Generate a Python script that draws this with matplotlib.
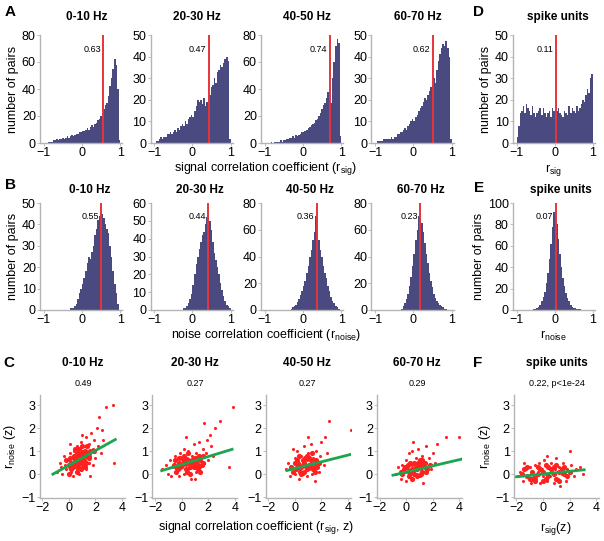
import numpy as np
import matplotlib
matplotlib.use("Agg")
import matplotlib.pyplot as plt

plt.rcParams['font.family'] = ['Liberation Sans', 'DejaVu Sans']
plt.rcParams['mathtext.default'] = 'regular'

# histogram bins: 50 bins of width 0.04 from -1 to 1
bin_centers = np.arange(-0.98, 1.0, 0.04)

sig_0_10 = [0, 0, 0, 1, 1, 1, 2, 2, 3, 2,
            3, 3, 4, 3, 4, 5, 4, 5, 6, 5,
            6, 7, 7, 8, 8, 9, 9, 10, 11, 10,
            12, 13, 12, 14, 15, 17, 18, 20, 22, 25,
            28, 30, 35, 42, 48, 55, 62, 58, 40, 2]
sig_20_30 = [0, 1, 1, 2, 3, 2, 3, 3, 4, 4,
             5, 4, 5, 6, 5, 7, 6, 8, 9, 8,
             10, 9, 11, 12, 13, 12, 15, 17, 20, 19,
             20, 18, 21, 17, 19, 18, 22, 26, 27, 30,
             28, 33, 34, 36, 35, 37, 39, 40, 38, 2]
sig_40_50 = [0, 0, 0, 0, 1, 0, 1, 1, 1, 1,
             2, 1, 2, 2, 3, 3, 4, 4, 5, 4,
             6, 5, 6, 7, 8, 8, 9, 10, 11, 12,
             13, 14, 15, 17, 18, 20, 22, 25, 28, 30,
             33, 38, 40, 30, 48, 60, 72, 77, 74, 5]
sig_60_70 = [0, 1, 1, 1, 1, 2, 2, 2, 2, 2,
             3, 2, 3, 3, 4, 4, 5, 5, 6, 7,
             6, 8, 9, 10, 11, 10, 12, 13, 15, 16,
             17, 19, 21, 20, 22, 24, 26, 27, 30, 28,
             34, 38, 41, 44, 46, 45, 47, 44, 40, 2]
sig_spike = [3, 8, 14, 15, 17, 14, 18, 16, 15, 13,
             17, 14, 12, 14, 15, 16, 13, 16, 14, 12,
             14, 15, 12, 16, 15, 11, 15, 16, 14, 13,
             12, 15, 14, 13, 17, 14, 16, 15, 14, 17,
             15, 16, 18, 20, 19, 22, 25, 23, 30, 32]

noise_0_10 = [0, 0, 0, 0, 0, 0, 0, 0, 0, 0,
              0, 0, 0, 0, 0, 0, 0, 1, 1, 1,
              2, 3, 5, 8, 10, 12, 15, 18, 22, 25,
              24, 27, 30, 35, 38, 42, 44, 46, 45, 43,
              40, 38, 36, 30, 25, 18, 12, 8, 3, 0]
noise_20_30 = [0, 0, 0, 0, 0, 0, 0, 0, 0, 0,
               0, 0, 0, 0, 0, 0, 0, 0, 0, 1,
               1, 2, 4, 6, 9, 14, 20, 26, 30, 34,
               38, 42, 44, 48, 52, 55, 50, 45, 38, 32,
               28, 24, 20, 15, 11, 8, 5, 3, 2, 1]
noise_40_50 = [0, 0, 0, 0, 0, 0, 0, 0, 0, 0,
               0, 0, 0, 0, 0, 0, 0, 1, 2, 3,
               4, 6, 8, 11, 14, 18, 22, 28, 33, 40,
               45, 52, 58, 70, 60, 52, 45, 40, 33, 28,
               24, 18, 14, 10, 7, 5, 3, 2, 1, 0]
noise_60_70 = [0, 0, 0, 0, 0, 0, 0, 0, 0, 0,
               0, 0, 0, 0, 0, 0, 0, 1, 3, 5,
               8, 12, 18, 25, 33, 42, 52, 60, 70, 72,
               65, 58, 50, 42, 35, 28, 22, 17, 12, 9,
               7, 5, 4, 3, 2, 1, 1, 0, 0, 0]
noise_spike = [0, 0, 0, 0, 0, 0, 0, 0, 0, 0,
               0, 1, 1, 2, 3, 5, 8, 12, 17, 25,
               35, 48, 62, 78, 92, 88, 80, 66, 52, 40,
               30, 22, 16, 11, 8, 5, 3, 2, 2, 1,
               1, 1, 0, 0, 0, 0, 0, 0, 0, 0]

band_titles = ['0-10 Hz', '20-30 Hz', '40-50 Hz', '60-70 Hz', 'spike units']
sig_hists = [sig_0_10, sig_20_30, sig_40_50, sig_60_70, sig_spike]
noise_hists = [noise_0_10, noise_20_30, noise_40_50, noise_60_70, noise_spike]
sig_ymax = [80, 50, 80, 50, 50]
noise_ymax = [50, 60, 80, 80, 100]
sig_line = [0.56, 0.43, 0.70, 0.51, 0.02]
sig_label = ['0.63', '0.47', '0.74', '0.62', '0.11']
noise_line = [0.50, 0.42, 0.36, 0.18, 0.02]
noise_label = ['0.55', '0.44', '0.36', '0.23', '0.07']

# z-scored scatter (r_sig, r_noise): sparse outer points
c1_x = [-0.9, -0.6, -0.5, -0.3, -0.2, 0.0, 0.0, 0.1, 0.2, 0.2, 0.3, 0.4, 0.4, 0.5, 0.5,
        0.6, 0.6, 0.7, 0.7, 0.8, 0.8, 0.9, 0.9, 1.0, 1.0, 1.1, 1.1, 1.2, 1.2, 1.3, 1.3,
        1.4, 1.5, 1.5, 1.6, 1.7, 1.8, 1.8, 1.9, 2.0, 2.1, 2.2, 2.3, 2.4, 2.5, 2.8, 3.3,
        3.4, -0.4, 0.3, 1.6, 2.6, 0.1, -0.7, 1.0]
c1_y = [0.1, 0.3, 0.0, 0.4, 0.2, 0.6, 0.3, 0.9, 0.1, 0.5, 0.7, 0.3, 1.0, 0.5, 0.8,
        0.2, 1.2, 0.6, 0.4, 0.9, 0.0, 0.7, 1.4, 0.5, 1.0, 0.3, 0.8, 1.2, 0.6, 0.2, 1.6,
        0.9, 0.5, 1.3, 0.8, 1.8, 0.4, 1.1, 1.5, 0.7, 2.0, 1.2, 2.5, 0.9, 1.9, 2.9, 3.0,
        0.5, 0.8, -0.1, -0.1, 1.5, 1.3, 0.5, 1.7]
c2_x = [-1.5, -1.2, -1.0, -0.9, -0.7, -0.5, -0.5, -0.3, -0.2, -0.1, 0.0, 0.1, 0.2, 0.2,
        0.3, 0.4, 0.5, 0.5, 0.6, 0.7, 0.8, 0.8, 0.9, 1.0, 1.1, 1.1, 1.2, 1.3, 1.4, 1.5,
        1.6, 1.7, 1.8, 1.9, 2.0, 2.2, 2.4, 2.5, 2.9, 1.7, 3.9, 3.6, -0.8, 0.3, 1.0, 2.1]
c2_y = [0.2, 0.4, 0.0, 0.6, 0.3, 0.8, 0.1, 0.5, -0.1, 0.9, 0.3, 0.6, 0.0, 1.1,
        0.4, 0.7, 0.2, 1.0, 0.5, -0.2, 0.8, 0.3, 1.3, 0.5, 0.1, 0.9, 0.6, 1.4, 0.3, 0.8,
        1.1, 0.5, 0.9, 1.5, 0.6, 1.2, 0.8, 2.0, 2.3, 2.2, 2.9, 0.3, -0.1, 1.6, -0.2, 1.7]
c3_x = [-0.7, -0.5, -0.4, -0.2, 0.0, 0.0, 0.1, 0.2, 0.3, 0.3, 0.4, 0.5, 0.6, 0.6, 0.7,
        0.8, 0.9, 0.9, 1.0, 1.1, 1.2, 1.2, 1.3, 1.4, 1.5, 1.6, 1.7, 1.8, 1.9, 2.0, 2.2,
        2.4, 2.6, 4.2, 2.3, 1.0, -0.1, 1.5]
c3_y = [0.2, 0.5, -0.1, 0.3, 0.7, 0.0, 0.4, 1.0, -0.2, 0.5, 0.2, 0.8, 0.0, 0.4, 1.2,
        0.3, 0.6, -0.1, 0.9, 0.2, 0.5, 1.3, 0.0, 0.7, 0.3, 1.0, 0.5, 0.1, 0.8, 1.4, 0.4,
        0.9, 2.3, 1.9, 1.6, 1.6, 1.1, -0.3]
c4_x = [-0.8, -0.6, -0.4, -0.3, -0.1, 0.0, 0.0, 0.1, 0.2, 0.3, 0.4, 0.5, 0.5, 0.6, 0.7,
        0.8, 0.8, 0.9, 1.0, 1.0, 1.1, 1.2, 1.3, 1.4, 1.5, 1.6, 1.7, 1.9, 2.0, 2.2, 2.3,
        3.0, 4.0, 1.3, 0.4]
c4_y = [0.0, 0.3, -0.2, 0.4, 0.1, 0.6, -0.3, 0.2, 0.9, 0.0, 0.4, -0.2, 1.4, 0.2, 0.7,
        0.0, 0.4, 1.1, -0.1, 0.5, 0.2, 0.8, 0.1, 0.5, 1.2, 0.3, 0.7, 0.2, 0.9, 0.5, 1.3,
        1.6, 1.6, -0.4, 1.0]
f_x = [-1.9, -1.7, -1.5, -1.3, -1.2, -1.0, -0.9, -0.8, -0.6, -0.5, -0.4, -0.3, -0.2,
       -0.1, 0.0, 0.1, 0.2, 0.3, 0.4, 0.5, 0.6, 0.7, 0.8, 0.9, 1.0, 1.1, 1.2, 1.4, 1.5,
       1.7, 1.8, 2.0, 2.1, 2.3, 2.5, 2.8, 3.0, -1.4, 0.3, 1.3]
f_y = [-0.1, 0.1, -0.3, 0.2, -0.1, 0.3, -0.4, 0.0, 0.4, -0.2, 0.1, 0.5, -0.4,
       0.2, -0.1, 0.6, 0.0, -0.3, 0.3, -0.1, 0.5, 0.1, -0.4, 0.2, 0.7, -0.2, 0.3, 0.0, 0.5,
       -0.3, 0.2, 1.0, 0.4, -0.1, 0.2, 0.3, 0.0, 0.5, 0.8, -0.5]

# dense cores of the clouds
c1_core_x = [0.0, 0.2, 0.4, 0.5, 0.6, 0.7, 0.8, 0.9, 1.0, 1.1, 1.2, 1.3, 0.3, 0.5, 0.7,
             0.9, 1.1, 1.3, 1.5, 0.1, 0.4, 0.6, 0.8, 1.0, 1.2, 1.4, 0.6, 0.9, 1.2, -0.2,
             0.2, 0.7, 1.6, 1.9, 0.0, 0.5, 1.0, 1.5]
c1_core_y = [0.4, 0.5, 0.5, 0.6, 0.7, 0.5, 0.6, 0.8, 0.7, 0.6, 0.9, 0.8, 0.3, 0.4, 0.3,
             0.5, 0.4, 0.5, 0.7, 0.7, 0.8, 0.9, 1.1, 1.2, 1.0, 1.2, 0.1, 0.2, 0.3, 0.6,
             0.2, 0.8, 1.0, 1.0, 0.0, 1.1, 0.9, 0.9]
c2_core_x = [-0.6, -0.4, -0.2, 0.0, 0.2, 0.4, 0.6, 0.8, 1.0, 1.2, 1.4, 1.6, -0.5, -0.3,
             -0.1, 0.1, 0.3, 0.5, 0.7, 0.9, 1.1, 1.3, 1.5, -0.4, 0.0, 0.4, 0.8, 1.2, 1.6,
             0.2, 0.6, 1.0, 1.4, -0.2, 0.5, 1.1]
c2_core_y = [0.4, 0.3, 0.5, 0.4, 0.6, 0.5, 0.3, 0.5, 0.7, 0.4, 0.6, 0.5, 0.6, 0.2,
             0.3, 0.5, 0.2, 0.6, 0.4, 0.3, 0.5, 0.8, 0.4, 0.1, 0.7, 0.1, 0.6, 0.2, 0.8,
             0.8, 0.0, 0.3, 0.1, 0.7, 0.9, 0.6]
c3_core_x = [-0.3, -0.1, 0.1, 0.3, 0.5, 0.7, 0.9, 1.1, 1.3, 1.5, 1.7, 0.0, 0.2, 0.4,
             0.6, 0.8, 1.0, 1.2, 1.4, 1.6, 1.8, 0.3, 0.7, 1.1, 1.5, 0.5, 0.9, 1.3]
c3_core_y = [0.3, 0.1, 0.2, 0.4, 0.3, 0.5, 0.2, 0.4, 0.3, 0.5, 0.3, 0.5, 0.6, 0.1,
             0.6, 0.7, 0.3, 0.6, 0.2, 0.6, 0.5, 0.8, 0.1, 0.7, 0.1, 0.0, 0.8, 0.9]
c4_core_x = [-0.4, -0.2, 0.0, 0.2, 0.4, 0.6, 0.8, 1.0, 1.2, 1.4, 1.6, 1.8, -0.3, -0.1,
             0.1, 0.3, 0.5, 0.7, 0.9, 1.1, 1.3, 1.5, 0.2, 0.6, 1.0, 1.4, 0.4, 0.8, 1.2]
c4_core_y = [0.1, 0.2, 0.3, 0.1, 0.2, 0.0, 0.2, 0.3, 0.1, 0.3, 0.2, 0.4, 0.0, 0.3,
             0.4, 0.5, 0.1, 0.3, 0.5, 0.0, 0.4, 0.1, -0.1, 0.5, 0.6, 0.5, -0.2, -0.1, 0.6]
f_core_x = [-1.6, -1.2, -0.8, -0.4, 0.0, 0.4, 0.8, 1.2, 1.6, 2.0, -1.4, -1.0, -0.6, -0.2,
            0.2, 0.6, 1.0, 1.4, 1.8, -1.2, -0.8, -0.4, 0.0, 0.4, 0.8, 1.2, 1.6, -0.6, 0.2,
            1.0]
f_core_y = [0.0, -0.1, 0.1, 0.0, 0.1, -0.1, 0.0, 0.1, 0.0, 0.1, 0.2, -0.2, -0.1, 0.2,
            -0.2, 0.2, -0.2, 0.2, -0.1, 0.3, -0.2, 0.3, -0.3, 0.3, 0.3, -0.3, 0.3, -0.3, 0.4,
            0.4]

scatter_x = [c1_x, c2_x, c3_x, c4_x, f_x]
scatter_y = [c1_y, c2_y, c3_y, c4_y, f_y]
core_x = [c1_core_x, c2_core_x, c3_core_x, c4_core_x, f_core_x]
core_y = [c1_core_y, c2_core_y, c3_core_y, c4_core_y, f_core_y]
corr_label = ['0.49', '0.27', '0.27', '0.29', '0.22, p<1e-24']
# regression lines: (x start, x end, slope, intercept)
fit_x0 = [-1.2, -1.5, -0.6, -1.0, -2.0]
fit_x1 = [3.5, 3.8, 4.2, 4.2, 3.1]
fit_slope = [0.32, 0.175, 0.146, 0.135, 0.06]
fit_icpt = [0.38, 0.41, 0.24, 0.085, 0.0]

W, H = 604, 541
fig = plt.figure(figsize=(W / 100, H / 100), dpi=100)

BAR = '#4a4a80'
RED = '#e8343a'
GRAY = '#b4b4b4'
FS = 9


def px_axes(left, top, width, height):
    return fig.add_axes([left / W, 1 - (top + height) / H, width / W, height / H])


def style(ax):
    for s in ['top', 'right']:
        ax.spines[s].set_visible(False)
    for s in ['left', 'bottom']:
        ax.spines[s].set_color(GRAY)
        ax.spines[s].set_linewidth(1.0)
    ax.tick_params(length=2, width=0.6, color=GRAY, labelsize=FS, pad=1)


def hist_panel(ax, heights, ymax, line_x, label):
    ax.bar(bin_centers, heights, width=0.04, color=BAR, edgecolor='none')
    ax.plot([line_x, line_x], [0, ymax], color=RED, lw=1.4)
    ax.text(line_x - 0.06, ymax * 0.87, label, ha='right', va='center', fontsize=6.5)
    ax.set_xlim(-1.1, 1.05)
    ax.set_ylim(0, ymax)
    ax.set_xticks([-1, 0, 1])
    ax.set_yticks(np.arange(0, ymax + 1, 20 if ymax in (80, 100) else 10))
    style(ax)


hist_lefts = [40, 150.5, 261, 371.5, 512.8]
title_x = [87, 197, 307, 418, 558]
for i in range(5):
    ax = px_axes(hist_lefts[i], 35, 82, 108)
    hist_panel(ax, sig_hists[i], sig_ymax[i], sig_line[i], sig_label[i])
    fig.text(title_x[i] / W, 1 - 17 / H, band_titles[i], ha='center', va='center',
             fontsize=8.5, fontweight='bold')
    if i in (0, 4):
        ax.set_ylabel('number of pairs', fontsize=FS, labelpad=2)
    if i == 4:
        ax.set_xlabel(r'r$_{sig}$', fontsize=FS, labelpad=2)

    ax = px_axes(hist_lefts[i], 203, 82, 107)
    hist_panel(ax, noise_hists[i], noise_ymax[i], noise_line[i], noise_label[i])
    fig.text((title_x[i] + 3) / W, 1 - 190 / H, band_titles[i], ha='center', va='center',
             fontsize=8.5, fontweight='bold')
    if i in (0, 4):
        ax.set_ylabel('number of pairs', fontsize=FS, labelpad=2)
    if i == 4:
        ax.set_xlabel(r'r$_{noise}$', fontsize=FS, labelpad=2)

fig.text(266 / W, 1 - 169 / H, r'signal correlation coefficient (r$_{sig}$)',
         ha='center', va='center', fontsize=FS)
fig.text(266 / W, 1 - 335 / H, r'noise correlation coefficient (r$_{noise}$)',
         ha='center', va='center', fontsize=FS)

scat_lefts = [39.6, 152.4, 265.6, 377, 513.8]
scat_title_x = [83, 195, 307, 417, 557]
for i in range(5):
    ax = px_axes(scat_lefts[i], 394.7, 85, 103.5)
    ax.scatter(scatter_x[i], scatter_y[i], s=5, color='#ff2020', linewidths=0)
    ax.scatter(core_x[i], core_y[i], s=14, color='#ff2020', linewidths=0)
    xs = np.array([fit_x0[i], fit_x1[i]])
    ax.plot(xs, fit_icpt[i] + fit_slope[i] * xs, color='#1aa54f', lw=2)
    ax.set_xlim(-2.2, 4.2)
    ax.set_ylim(-1.05, 3.45)
    ax.set_xticks([-2, 0, 2, 4])
    ax.set_yticks([-1, 0, 1, 2, 3])
    style(ax)
    fig.text(scat_title_x[i] / W, 1 - 363 / H, band_titles[i], ha='center', va='center',
             fontsize=8.5, fontweight='bold')
    fig.text(scat_title_x[i] / W, 1 - 383 / H, corr_label[i], ha='center', va='center',
             fontsize=6.5)
    if i in (0, 4):
        ax.set_ylabel(r'r$_{noise}$ (z)', fontsize=FS, labelpad=2)
    if i == 4:
        ax.set_xlabel(r'r$_{sig}$(z)', fontsize=FS, labelpad=4)

fig.text(256 / W, 1 - 527 / H, r'signal correlation coefficient (r$_{sig}$, z)',
         ha='center', va='center', fontsize=FS)

for letter, x, y in [('A', 10, 12), ('B', 10, 185), ('C', 9, 363),
                     ('D', 479, 12), ('E', 479, 188), ('F', 478, 363)]:
    fig.text(x / W, 1 - y / H, letter, ha='center', va='center',
             fontsize=11, fontweight='bold')

fig.savefig('out.png', dpi=100)
